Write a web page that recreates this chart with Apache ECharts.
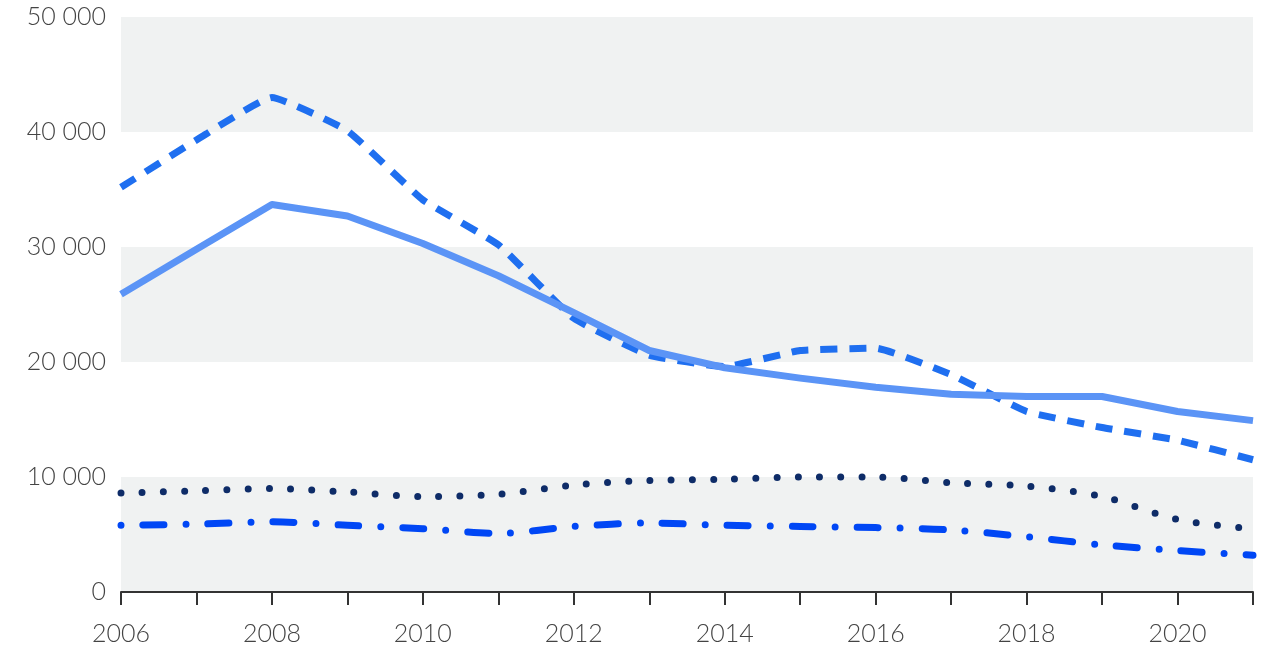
<!DOCTYPE html>
<html>
<head>
<meta charset="utf-8">
<script src="https://cdn.jsdelivr.net/npm/echarts@6/dist/echarts.min.js"></script>
<style>
  html, body { margin: 0; padding: 0; background: #fff; }
  #chart { width: 1270px; height: 653px; }
</style>
</head>
<body>
<div id="chart"></div>
<script>
// years on the x axis
var years = ['2006', '2007', '2008', '2009', '2010', '2011', '2012', '2013', '2014', '2015', '2016', '2017', '2018', '2019', '2020', '2021'];

// dashed line
var dashedValues = [35200, 39300, 43000, 40100, 34100, 30200, 23800, 20600, 19600, 21000, 21200, 18900, 15700, 14300, 13200, 11500];
// solid line
var solidValues = [25900, 29800, 33700, 32700, 30300, 27500, 24300, 21000, 19500, 18600, 17800, 17200, 17000, 17000, 15700, 14900];
// dotted line
var dottedValues = [8600, 8800, 9000, 8700, 8300, 8500, 9300, 9700, 9800, 10000, 10000, 9500, 9200, 8300, 6300, 5500];
// dash-dot line
var dashDotValues = [5800, 5900, 6100, 5800, 5500, 5100, 5700, 6000, 5800, 5700, 5600, 5400, 4800, 4100, 3600, 3200];

var axisFont = { fontFamily: 'Lato', fontWeight: 300, fontSize: 25, color: '#444' };

function fmt(v) {
    return String(v).replace(/\B(?=(\d{3})+(?!\d))/g, ' ');
}

function lineSeries(data, color, type, cap, smooth) {
    return {
        type: 'line',
        data: data,
        symbol: 'none',
        smooth: smooth,
        silent: true,
        lineStyle: { color: color, width: 7, type: type, cap: cap, join: 'round' }
    };
}

var option = {
    animation: false,
    grid: { left: 121, right: 17, top: 17, bottom: 61 },
    xAxis: {
        type: 'category',
        data: years,
        boundaryGap: false,
        axisLine: { lineStyle: { color: '#333', width: 2 } },
        axisTick: { show: true, interval: 0, length: 13, lineStyle: { color: '#333', width: 2 } },
        axisLabel: Object.assign({ interval: 1, margin: 29 }, axisFont),
        splitLine: { show: false }
    },
    yAxis: {
        type: 'value',
        min: 0,
        max: 50000,
        interval: 10000,
        axisLine: { show: false },
        axisTick: { show: false },
        axisLabel: Object.assign({ margin: 15, formatter: fmt }, axisFont),
        splitLine: { show: false },
        splitArea: { show: true, areaStyle: { color: ['#f0f2f2', '#ffffff'] } }
    },
    series: [
        lineSeries(dashedValues, '#1f6ff0', [17, 12], 'butt', 0.12),
        lineSeries(solidValues, '#5b94f6', 'solid', 'butt', false),
        lineSeries(dottedValues, '#0e2c68', [0, 21.2], 'round', 0.3),
        lineSeries(dashDotValues, '#0047f5', [0, 22, 21, 22], 'round', 0.3)
    ]
};

echarts.init(document.getElementById('chart')).setOption(option);
</script>
</body>
</html>
